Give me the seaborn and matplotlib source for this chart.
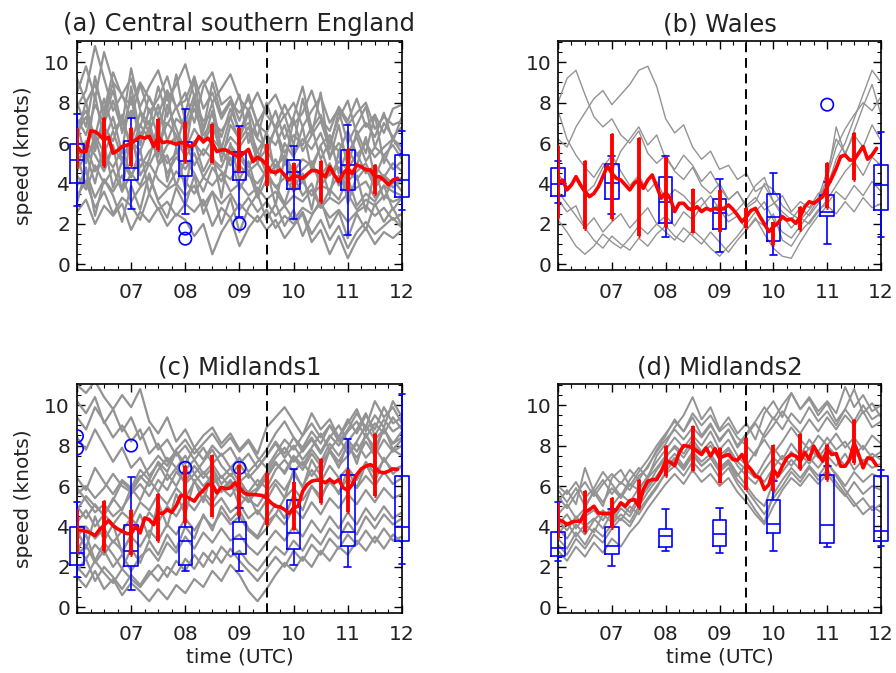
import numpy as np
import pandas as pd
import matplotlib
matplotlib.use("Agg")
import matplotlib.pyplot as plt
import seaborn as sns
from matplotlib.ticker import MultipleLocator, FixedLocator

# ---------------- data ----------------
hours = [6, 7, 8, 9, 10, 11, 12]
hour_labels = ["", "07", "08", "09", "10", "11", "12"]
bar_times = [6.0, 6.5, 7.0, 7.5, 8.0, 8.5, 9.0, 9.5, 10.0, 10.5, 11.0, 11.5]

# ensemble mean (every 5 minutes, 06:00 - 11:55)
mean_a = [5.83, 5.58, 5.58, 6.6, 6.57, 6.4, 6.15, 6.29, 5.5, 5.63, 5.83, 5.89,
          5.99, 6.15, 6.32, 6.24, 6.35, 5.83, 6.32, 6.02, 6.07, 6.02, 5.94, 6.02,
          5.99, 5.83, 5.91, 6.32, 6.07, 6.24, 5.99, 5.58, 5.66, 5.66, 5.53, 5.41,
          5.33, 5.5, 5.69, 5.08, 5.3, 5.16, 4.92, 4.59, 4.54, 4.67, 4.42, 4.17,
          4.39, 4.34, 4.26, 4.46, 4.64, 4.64, 4.5, 4.34, 4.83, 4.42, 4.09, 4.5,
          4.75, 4.5, 4.92, 4.83, 4.67, 4.67, 4.34, 4.34, 4.17, 3.93, 4.17, 4.26]
mean_b = [4.04, 4.17, 3.68, 3.93, 4.34, 3.93, 3.6, 3.35, 3.51, 3.84, 4.34, 4.87,
          4.5, 4.26, 4.17, 3.93, 3.68, 4.01, 4.17, 3.76, 4.17, 4.42, 3.84, 3.27,
          3.55, 3.27, 2.61, 3.02, 3.02, 2.77, 2.69, 2.85, 2.61, 2.77, 2.69, 2.77,
          2.69, 2.77, 2.94, 2.72, 2.44, 2.11, 2.36, 2.66, 2.77, 2.36, 2.0, 1.62,
          1.86, 2.03, 2.36, 2.19, 2.24, 2.03, 2.36, 2.85, 3.1, 3.02, 3.18, 3.35,
          3.84, 4.26, 4.75, 5.33, 5.41, 5.16, 5.16, 5.5, 5.83, 5.2, 5.41, 5.74]
mean_c = [3.81, 3.81, 3.76, 3.68, 3.55, 3.84, 4.06, 4.29, 4.04, 3.88, 3.76, 3.65,
          3.63, 4.01, 3.68, 4.42, 4.34, 4.09, 4.67, 4.64, 4.83, 4.7, 5.03, 5.53,
          5.5, 5.38, 5.25, 5.58, 5.79, 6.07, 6.07, 5.66, 5.94, 5.86, 5.91, 6.16,
          5.91, 5.66, 5.58, 5.58, 5.56, 5.53, 5.41, 5.17, 5.0, 4.97, 4.83, 4.64,
          4.92, 5.0, 5.74, 6.07, 6.24, 6.29, 6.29, 6.16, 6.32, 6.16, 6.32, 5.91,
          5.79, 6.07, 6.57, 6.85, 6.98, 7.06, 6.93, 6.7, 6.65, 6.73, 6.85, 6.82]
mean_d = [4.34, 4.26, 4.09, 4.21, 4.26, 4.26, 4.7, 4.83, 5.0, 4.67, 4.64, 4.64,
          4.64, 4.83, 5.17, 5.0, 5.28, 5.33, 5.0, 5.83, 6.24, 6.32, 6.32, 6.73,
          7.23, 7.18, 7.01, 7.64, 8.0, 7.97, 7.89, 7.72, 7.56, 7.89, 7.48, 7.85,
          7.39, 7.48, 7.56, 7.31, 7.28, 7.56, 7.06, 6.82, 6.49, 6.4, 5.83, 6.07,
          6.82, 6.49, 6.98, 7.39, 7.56, 7.48, 7.23, 7.67, 7.31, 7.97, 7.56, 7.23,
          7.81, 7.56, 7.61, 6.98, 6.98, 7.31, 8.14, 7.56, 6.9, 7.39, 7.34, 7.01]

# red error bars (half-hourly)
err_lo_a = [4.83, 4.88, 4.88, 5.66, 5.05, 5.0, 4.59, 3.88, 3.76, 3.1, 3.68, 3.47]
err_hi_a = [6.68, 7.26, 6.73, 7.19, 7.06, 6.95, 6.73, 5.96, 5.0, 5.12, 5.71, 4.92]
err_lo_b = [2.28, 1.77, 2.24, 1.4, 1.86, 1.53, 1.62, 1.78, 0.96, 1.7, 2.77, 4.17]
err_hi_b = [5.87, 5.12, 6.45, 6.24, 5.33, 3.73, 3.68, 2.77, 2.11, 2.85, 5.0, 6.49]
err_lo_c = [2.72, 2.77, 2.57, 3.3, 4.17, 4.46, 4.54, 4.09, 3.8, 5.17, 4.72, 5.53]
err_hi_c = [4.8, 5.28, 4.79, 5.61, 6.98, 7.52, 7.06, 6.62, 6.2, 7.34, 6.77, 8.55]
err_lo_d = [3.43, 3.71, 3.93, 4.92, 6.49, 6.73, 6.16, 5.79, 5.74, 6.82, 6.29, 7.15]
err_hi_d = [5.17, 5.74, 5.41, 6.32, 8.0, 8.99, 7.89, 8.38, 8.05, 8.58, 8.05, 9.29]

# observation boxes: [low whisker, q1, median, q3, high whisker] per hour
box_a = [[2.9, 4.0, 5.16, 5.94, 7.43], [2.72, 4.17, 4.79, 6.1, 7.23],
         [2.51, 4.39, 5.13, 6.07, 7.67], [2.36, 4.17, 4.55, 5.54, 6.86],
         [2.26, 3.71, 4.55, 5.18, 5.87], [1.44, 3.68, 4.9, 5.68, 6.9],
         [2.69, 3.35, 4.17, 5.4, 6.6]]
box_b = [[3.02, 3.38, 3.99, 4.75, 5.13], [2.49, 3.22, 4.03, 4.97, 5.35],
         [1.34, 2.03, 3.09, 4.31, 5.36], [0.63, 1.73, 2.52, 3.25, 4.24],
         [0.45, 1.14, 2.33, 3.47, 4.5], [1.0, 2.39, 2.59, 3.42, 4.09],
         [1.37, 2.69, 3.91, 4.93, 6.57]]
box_c = [[1.49, 2.11, 2.69, 3.96, 5.2], [0.87, 2.03, 2.81, 4.09, 6.45],
         [1.78, 2.11, 3.27, 3.96, 6.62], [1.78, 2.66, 3.38, 4.24, 4.92],
         [2.11, 2.9, 3.68, 5.3, 6.86], [1.98, 3.05, 3.71, 6.55, 8.33],
         [2.13, 3.28, 3.98, 6.49, 10.54]]
box_d = [[2.31, 2.52, 2.92, 3.71, 5.2], [2.06, 2.66, 3.05, 3.98, 4.87],
         [2.77, 2.99, 3.55, 3.88, 4.88], [2.69, 3.02, 3.65, 4.34, 4.92],
         [2.81, 3.68, 4.14, 5.3, 6.24], [2.99, 3.18, 4.09, 6.55, 7.01],
         [3.05, 3.27, 3.76, 6.49, 6.77]]

# outliers (hour, speed)
out_t_a = [8, 8, 9]
out_v_a = [1.77, 1.27, 2.0]
out_t_b = [11]
out_v_b = [7.9]
out_t_c = [6, 6, 7, 8, 9]
out_v_c = [8.47, 7.85, 8.0, 6.9, 6.9]
out_t_d = []
out_v_d = []

# ensemble members (every 10 minutes, 06:00 - 12:00)
grey_a = [
    [8.5, 9.8, 8.2, 10.5, 9.0, 8.4, 9.2, 7.8, 8.8, 9.6, 8.1, 8.9, 9.9, 8.3, 9.1, 8.0, 8.7, 9.4, 8.2, 7.6, 8.5, 7.4, 6.8, 7.9, 6.9, 7.5, 8.6, 7.2, 6.6, 7.8, 7.1, 8.2, 6.8, 7.4, 6.5, 7.7, 7.9],
    [7.8, 8.6, 10.8, 9.2, 7.6, 8.4, 7.2, 8.9, 7.5, 8.2, 9.3, 7.7, 8.5, 7.0, 8.8, 9.5, 7.9, 8.3, 7.1, 8.4, 6.9, 6.5, 7.6, 6.2, 7.3, 8.8, 6.7, 7.4, 6.0, 7.2, 8.1, 6.4, 7.0, 6.3, 7.5, 6.1, 7.3],
    [7.2, 6.4, 7.9, 7.0, 8.1, 6.6, 7.6, 6.8, 8.3, 7.3, 6.9, 7.8, 6.5, 8.0, 7.1, 7.4, 6.3, 7.7, 6.6, 7.0, 6.2, 5.8, 6.7, 5.5, 6.4, 5.9, 6.8, 5.2, 6.1, 5.6, 6.6, 5.4, 6.0, 5.3, 5.8, 6.2, 5.5],
    [6.5, 7.3, 5.9, 6.8, 6.1, 7.4, 5.6, 6.9, 6.2, 5.8, 7.0, 6.4, 5.7, 6.7, 6.0, 6.9, 5.5, 6.3, 5.8, 6.5, 5.1, 5.7, 4.8, 5.4, 4.6, 5.2, 4.9, 5.8, 4.4, 5.1, 4.7, 5.5, 4.5, 4.9, 4.3, 5.0, 4.6],
    [5.8, 5.0, 6.4, 5.5, 6.6, 5.2, 6.1, 5.6, 6.8, 5.0, 5.9, 6.3, 5.3, 6.0, 5.4, 6.2, 5.7, 4.9, 5.5, 4.8, 5.6, 4.5, 5.2, 4.3, 4.9, 4.1, 4.7, 4.4, 5.0, 3.9, 4.6, 4.2, 4.8, 3.8, 4.4, 4.0, 4.3],
    [5.0, 5.9, 4.6, 5.4, 4.8, 5.7, 4.4, 5.2, 4.9, 5.8, 4.5, 5.3, 4.7, 5.5, 4.3, 5.1, 4.6, 4.2, 4.9, 4.4, 4.0, 4.6, 3.8, 4.3, 3.6, 4.1, 3.4, 3.9, 3.7, 4.4, 3.5, 3.8, 4.1, 3.3, 3.9, 3.6, 3.4],
    [4.4, 3.7, 4.9, 4.0, 4.7, 3.6, 4.5, 3.9, 5.0, 4.2, 3.8, 4.6, 4.1, 3.5, 4.3, 3.9, 4.5, 3.6, 4.0, 3.4, 3.8, 3.2, 3.6, 2.9, 3.4, 3.1, 3.7, 2.8, 3.3, 3.0, 3.5, 2.7, 3.2, 2.9, 3.4, 3.1, 3.3],
    [3.4, 4.1, 2.8, 3.6, 2.5, 3.3, 2.9, 2.2, 3.5, 2.7, 3.1, 2.4, 3.0, 2.6, 3.2, 1.9, 2.8, 2.3, 3.0, 2.5, 2.1, 2.7, 1.8, 2.4, 2.0, 2.6, 1.5, 2.2, 1.2, 1.9, 0.8, 1.6, 2.1, 1.5, 1.9, 2.3, 1.8],
    [2.6, 3.2, 2.0, 2.9, 2.4, 3.0, 1.7, 2.6, 2.1, 2.8, 1.9, 2.5, 2.2, 1.4, 2.0, 0.5, 1.6, 2.3, 0.9, 1.8, 2.4, 1.7, 2.2, 1.3, 1.9, 2.5, 1.1, 1.7, 0.5, 1.4, 0.3, 1.2, 1.8, 1.0, 1.6, 1.3, 1.7],
    [6.9, 7.6, 6.3, 8.2, 6.7, 7.1, 6.0, 7.5, 6.5, 7.9, 6.1, 7.2, 6.8, 7.7, 6.4, 7.0, 6.6, 7.3, 6.1, 6.8, 5.6, 6.4, 5.9, 6.9, 5.4, 6.2, 5.7, 6.5, 5.3, 6.0, 5.5, 6.3, 5.1, 5.8, 5.4, 5.9, 5.2],
    [4.9, 6.1, 5.4, 4.6, 5.8, 5.1, 6.3, 4.8, 5.6, 6.0, 5.0, 5.5, 6.1, 4.9, 5.7, 5.2, 4.8, 5.9, 5.3, 4.6, 5.0, 4.3, 4.9, 5.3, 4.2, 4.7, 5.1, 3.9, 4.5, 4.8, 4.1, 4.6, 5.0, 4.0, 4.4, 3.8, 4.2],
    [3.9, 4.6, 3.3, 4.2, 3.6, 4.4, 3.1, 3.8, 4.3, 3.2, 3.7, 4.0, 3.4, 3.9, 2.9, 3.6, 3.0, 3.5, 2.7, 3.3, 2.6, 3.1, 2.4, 2.9, 2.2, 2.8, 2.5, 3.0, 2.3, 2.7, 2.1, 2.6, 2.9, 2.4, 2.8, 2.2, 2.5],
    [9.2, 8.0, 8.9, 7.6, 9.5, 8.3, 7.9, 9.0, 8.2, 7.4, 8.6, 7.8, 8.1, 9.3, 7.7, 8.5, 7.2, 8.0, 7.5, 8.2, 7.0, 7.8, 8.4, 7.3, 8.0, 6.8, 7.6, 8.3, 7.0, 7.7, 6.9, 7.5, 8.0, 6.7, 7.3, 6.9, 7.1],
    [6.2, 8.1, 5.6, 7.4, 9.0, 6.5, 8.3, 5.9, 7.7, 6.3, 8.6, 5.8, 7.5, 9.1, 6.6, 8.0, 5.7, 7.3, 8.4, 6.0, 7.1, 5.4, 6.8, 4.9, 7.2, 5.6, 6.4, 8.5, 5.2, 6.9, 4.8, 6.6, 5.5, 7.4, 5.0, 6.2, 5.8],
    [5.4, 3.9, 6.3, 4.7, 5.9, 3.6, 6.5, 4.4, 5.2, 7.0, 4.1, 5.8, 3.7, 6.1, 4.6, 5.5, 3.3, 6.0, 4.2, 5.1, 3.5, 4.8, 2.9, 5.3, 3.8, 4.5, 2.7, 4.9, 3.4, 5.6, 3.0, 4.4, 2.6, 4.7, 3.2, 4.2, 3.6],
    [7.0, 5.2, 8.4, 6.1, 7.3, 5.5, 8.8, 6.4, 7.1, 5.3, 7.9, 6.7, 5.6, 8.2, 6.0, 7.6, 5.1, 6.9, 6.2, 7.5, 5.0, 6.6, 4.4, 6.0, 5.3, 6.8, 4.6, 5.9, 6.4, 4.5, 5.7, 4.9, 6.3, 4.3, 5.4, 4.7, 5.1],
    [3.0, 4.8, 2.4, 4.2, 3.4, 2.1, 3.9, 2.7, 4.5, 3.1, 2.3, 3.8, 2.9, 4.4, 2.5, 3.6, 2.0, 3.3, 1.6, 2.8, 3.5, 2.2, 3.0, 1.9, 2.7, 1.4, 2.4, 3.2, 1.8, 2.6, 1.3, 2.5, 1.7, 3.0, 2.1, 2.8, 1.9],
    [8.0, 6.8, 9.3, 7.2, 8.6, 6.9, 9.7, 7.6, 6.9, 8.8, 7.3, 9.4, 7.0, 8.4, 6.7, 9.0, 7.4, 8.1, 6.5, 7.7, 6.3, 8.0, 6.6, 7.4, 5.9, 8.2, 6.4, 7.1, 5.7, 7.6, 6.0, 6.9, 7.8, 5.8, 7.0, 6.3, 6.8],
    [4.6, 5.5, 4.0, 6.0, 3.8, 5.1, 4.3, 5.7, 3.5, 4.9, 5.4, 3.9, 5.2, 4.5, 3.6, 4.8, 4.1, 5.3, 3.7, 4.6, 3.3, 4.2, 3.9, 3.0, 4.4, 3.4, 4.0, 2.8, 3.7, 3.2, 4.3, 2.9, 3.5, 3.1, 3.9, 2.7, 3.3],
]
grey_b = [
    [8.0, 9.2, 9.6, 8.4, 7.3, 6.8, 7.2, 6.4, 6.0, 6.6, 5.5, 5.0, 5.4, 4.6, 4.2, 4.8, 3.9, 3.5, 4.0, 3.2, 3.6, 2.9, 3.3, 2.7, 3.0, 3.4, 2.6, 3.1, 2.8, 3.5, 3.8, 5.2, 6.0, 7.2, 8.4, 9.6, 9.0],
    [6.2, 5.8, 6.8, 7.5, 8.2, 8.6, 7.9, 8.4, 8.9, 9.6, 9.8, 8.8, 7.2, 6.5, 6.9, 5.8, 5.2, 5.6, 4.7, 4.9, 4.2, 4.5, 3.6, 3.9, 3.1, 2.6, 2.2, 2.8, 2.4, 3.0, 4.3, 5.8, 6.7, 7.4, 8.0, 7.6, 8.3],
    [7.6, 6.2, 5.4, 4.8, 4.3, 5.0, 4.6, 5.6, 6.2, 6.8, 5.9, 6.4, 5.2, 4.7, 5.4, 4.9, 4.1, 4.6, 3.8, 3.2, 3.6, 2.8, 3.1, 4.0, 3.7, 2.9, 2.5, 2.2, 2.7, 3.3, 4.6, 6.2, 5.5, 6.4, 5.8, 6.9, 6.1],
    [4.5, 3.8, 4.2, 3.5, 3.9, 4.8, 5.4, 4.6, 3.9, 4.4, 3.6, 4.1, 3.2, 3.7, 3.4, 2.9, 3.3, 2.6, 3.0, 2.4, 2.7, 3.2, 3.9, 4.3, 3.1, 2.4, 1.8, 2.3, 2.0, 2.6, 3.2, 3.9, 4.6, 5.1, 4.4, 5.3, 4.9],
    [3.2, 2.6, 2.9, 1.8, 2.3, 1.6, 2.1, 2.5, 1.8, 2.3, 2.8, 2.0, 2.4, 1.9, 2.6, 2.2, 2.9, 3.4, 2.7, 2.1, 2.4, 1.7, 2.2, 1.9, 2.5, 1.2, 0.9, 1.6, 2.1, 2.7, 3.0, 3.6, 3.2, 3.9, 3.4, 4.1, 3.6],
    [2.2, 1.6, 0.9, 0.5, 0.9, 1.5, 1.1, 0.8, 1.3, 1.9, 1.5, 2.0, 1.6, 1.2, 1.8, 1.4, 1.0, 1.6, 1.1, 0.6, 1.2, 1.7, 2.3, 1.5, 0.8, 0.4, 0.3, 1.1, 1.8, 2.4, 2.9, 2.5, 3.1, 2.6, 3.3, 2.8, 3.0],
    [3.6, 3.0, 2.4, 1.8, 1.2, 0.8, 1.4, 1.0, 0.7, 1.3, 0.9, 1.5, 1.9, 1.4, 1.1, 1.7, 1.3, 0.8, 0.4, 0.9, 1.4, 2.0, 2.6, 3.1, 2.2, 1.6, 1.3, 1.9, 2.5, 3.2, 4.2, 6.8, 5.4, 6.6, 7.8, 8.9, 7.4],
]
grey_c = [
    [11.0, 10.6, 11.2, 10.4, 9.8, 10.5, 9.9, 10.8, 9.2, 8.6, 9.4, 8.2, 8.8, 7.9, 8.5, 8.9, 8.1, 8.6, 7.8, 8.3, 7.6, 8.9, 9.4, 9.9, 9.2, 8.5, 9.6, 8.8, 9.3, 8.4, 9.1, 9.8, 8.7, 9.5, 8.9, 10.2, 9.4],
    [10.2, 9.6, 10.4, 9.1, 9.8, 8.7, 9.4, 8.3, 8.9, 7.8, 8.3, 7.5, 8.0, 7.3, 7.9, 7.1, 7.6, 6.9, 7.4, 6.7, 7.2, 7.8, 8.6, 9.2, 8.4, 7.7, 8.3, 7.6, 8.4, 9.0, 8.2, 8.8, 9.6, 8.5, 9.3, 8.7, 9.0],
    [5.6, 6.0, 5.4, 5.9, 6.6, 6.0, 5.7, 6.4, 6.9, 7.5, 7.0, 7.8, 8.3, 7.6, 8.1, 8.6, 7.9, 8.4, 7.7, 8.2, 7.4, 6.9, 7.6, 8.3, 7.8, 8.5, 9.1, 8.4, 9.0, 8.2, 8.8, 9.6, 8.9, 10.2, 9.4, 9.9, 9.1],
    [4.8, 5.5, 5.0, 4.6, 5.3, 6.2, 5.8, 6.5, 6.0, 6.8, 7.4, 6.9, 7.5, 6.6, 7.2, 7.8, 7.0, 6.5, 7.1, 6.4, 6.9, 7.5, 8.1, 7.4, 8.0, 7.3, 7.9, 8.6, 7.8, 8.4, 7.6, 8.2, 9.0, 8.3, 8.8, 8.1, 8.7],
    [5.9, 5.3, 4.7, 5.1, 4.5, 4.9, 5.6, 6.1, 5.5, 6.3, 5.8, 6.7, 6.2, 7.0, 6.4, 6.9, 6.1, 6.6, 6.0, 5.7, 6.3, 5.9, 6.8, 7.3, 6.7, 7.2, 6.5, 7.1, 7.7, 7.0, 7.5, 8.1, 7.4, 7.9, 7.2, 7.8, 7.5],
    [4.2, 4.8, 4.0, 4.6, 4.1, 4.7, 4.3, 5.2, 4.8, 5.6, 5.1, 5.9, 5.4, 6.2, 5.7, 5.2, 5.9, 5.5, 6.1, 5.3, 5.0, 5.7, 6.3, 5.8, 6.6, 6.0, 6.8, 6.2, 7.0, 6.4, 6.9, 6.3, 7.2, 6.6, 7.3, 6.8, 7.0],
    [3.5, 4.0, 3.4, 3.9, 3.2, 3.8, 4.4, 3.9, 4.7, 4.2, 5.0, 4.5, 5.3, 4.8, 5.5, 4.9, 5.4, 4.7, 5.1, 4.4, 4.8, 4.2, 4.6, 5.4, 5.9, 5.3, 6.0, 5.5, 6.2, 5.7, 6.4, 5.9, 6.5, 6.0, 6.7, 6.1, 6.4],
    [3.0, 2.4, 3.1, 2.6, 3.3, 2.8, 3.5, 3.0, 3.8, 3.3, 4.1, 3.6, 4.4, 3.8, 4.5, 4.0, 4.7, 4.1, 4.5, 3.8, 3.4, 3.9, 4.6, 4.1, 4.9, 4.4, 5.2, 4.6, 5.4, 4.9, 5.6, 5.1, 5.8, 5.2, 5.9, 5.4, 5.6],
    [2.5, 3.1, 2.2, 2.8, 2.0, 2.6, 1.8, 2.5, 2.9, 2.3, 3.2, 2.7, 3.5, 2.9, 3.7, 3.2, 3.9, 3.3, 3.6, 3.0, 2.6, 3.2, 3.8, 3.3, 4.0, 3.5, 4.3, 3.7, 4.5, 3.9, 4.7, 4.1, 4.9, 4.3, 5.0, 4.4, 4.7],
    [2.0, 1.5, 2.3, 1.7, 1.2, 1.9, 1.4, 1.0, 1.6, 2.1, 1.5, 2.3, 1.8, 2.6, 2.0, 2.8, 2.2, 2.9, 2.3, 1.8, 1.3, 1.9, 2.5, 2.0, 2.8, 2.3, 3.1, 2.6, 3.4, 2.9, 3.6, 3.1, 3.8, 3.2, 3.9, 3.3, 3.5],
    [1.5, 1.0, 1.8, 0.9, 1.4, 0.6, 1.2, 0.8, 0.3, 0.9, 0.4, 1.1, 0.7, 1.4, 1.0, 1.8, 1.3, 2.1, 1.6, 0.8, 0.3, 0.9, 1.6, 2.2, 1.8, 2.5, 2.0, 2.8, 2.3, 3.0, 2.6, 3.3, 2.8, 3.5, 2.9, 3.6, 3.2],
    [5.0, 4.4, 5.1, 4.5, 5.4, 4.8, 5.9, 5.3, 6.3, 5.7, 6.6, 6.0, 6.9, 6.2, 6.7, 6.1, 6.5, 5.9, 6.3, 5.6, 5.9, 6.5, 7.2, 6.6, 7.4, 6.8, 7.6, 7.0, 7.8, 7.2, 8.0, 7.4, 8.2, 7.5, 8.3, 7.7, 8.0],
    [8.4, 7.8, 8.8, 8.0, 7.2, 7.9, 6.9, 7.4, 6.5, 7.1, 6.3, 6.9, 6.1, 6.6, 6.0, 6.5, 5.8, 6.3, 5.6, 5.2, 5.8, 6.4, 7.1, 6.7, 7.5, 7.0, 7.8, 7.2, 8.1, 7.5, 8.3, 7.7, 8.5, 7.9, 8.8, 8.1, 8.4],
    [3.8, 2.9, 4.5, 3.3, 4.1, 2.7, 3.6, 4.6, 3.4, 5.2, 4.0, 5.6, 4.6, 6.3, 5.2, 6.8, 5.7, 6.2, 5.0, 5.6, 4.6, 5.3, 6.1, 5.4, 6.8, 5.9, 7.3, 6.5, 7.8, 6.9, 8.2, 7.1, 8.6, 7.6, 8.9, 7.8, 8.3],
    [2.8, 3.6, 2.3, 3.2, 2.6, 1.9, 2.9, 2.2, 3.3, 2.6, 3.6, 2.9, 4.0, 3.4, 4.6, 3.8, 5.0, 4.3, 4.8, 3.9, 3.5, 4.4, 5.1, 4.4, 5.6, 4.8, 6.0, 5.3, 6.4, 5.6, 6.8, 5.9, 7.1, 6.2, 7.4, 6.6, 7.0],
    [6.4, 5.8, 6.9, 6.2, 5.6, 6.3, 5.9, 6.8, 6.3, 7.2, 6.7, 7.7, 7.1, 7.9, 7.3, 8.0, 7.5, 7.9, 7.1, 7.6, 6.9, 7.5, 8.2, 7.6, 8.4, 7.9, 8.7, 8.1, 9.0, 8.4, 9.3, 8.6, 9.5, 8.8, 9.9, 9.1, 9.4],
    [1.8, 2.4, 1.3, 2.0, 1.5, 0.9, 1.6, 1.1, 1.8, 1.3, 2.0, 1.6, 2.4, 1.9, 2.7, 2.2, 3.0, 2.5, 2.8, 2.2, 1.8, 2.4, 3.0, 2.6, 3.3, 2.8, 3.6, 3.1, 3.9, 3.4, 4.2, 3.6, 4.5, 3.9, 4.6, 4.1, 4.4],
    [9.4, 8.8, 9.9, 9.2, 8.4, 9.0, 8.2, 8.8, 7.6, 8.1, 7.2, 7.7, 6.8, 7.3, 6.6, 7.1, 6.4, 6.9, 6.2, 6.6, 6.0, 6.7, 7.4, 7.9, 7.2, 7.8, 8.4, 7.7, 8.5, 8.0, 8.7, 9.2, 8.4, 9.1, 8.6, 9.4, 8.8],
]
grey_d = [
    [6.0, 5.6, 6.2, 5.4, 5.9, 6.7, 6.1, 5.5, 6.3, 6.9, 6.4, 7.5, 8.1, 8.9, 9.5, 10.4, 9.3, 9.9, 8.8, 9.4, 8.6, 9.1, 8.3, 9.6, 10.2, 9.4, 10.6, 9.8, 10.3, 9.5, 10.1, 9.2, 9.8, 10.8, 9.6, 10.1, 9.4],
    [5.2, 5.8, 5.1, 6.9, 5.7, 5.0, 6.4, 6.8, 6.0, 6.7, 7.3, 8.0, 8.6, 9.2, 8.7, 9.4, 8.5, 9.1, 8.2, 8.8, 7.9, 8.5, 9.1, 8.4, 9.0, 9.7, 9.1, 8.6, 9.3, 8.7, 9.4, 8.8, 9.5, 9.0, 9.7, 8.9, 9.2],
    [4.6, 5.1, 4.4, 4.9, 5.8, 5.2, 5.9, 5.4, 6.1, 5.8, 6.5, 7.2, 7.8, 8.4, 7.9, 8.5, 8.0, 8.7, 7.8, 8.3, 7.5, 7.0, 7.7, 8.3, 7.6, 8.2, 8.9, 8.3, 7.8, 8.5, 8.0, 8.6, 7.9, 8.4, 7.8, 8.5, 8.1],
    [4.1, 4.6, 3.9, 4.5, 4.8, 4.3, 5.0, 5.6, 5.2, 5.9, 6.4, 6.9, 7.5, 7.9, 7.4, 8.1, 7.6, 8.0, 7.3, 7.8, 7.0, 6.5, 6.1, 6.8, 7.4, 7.0, 7.7, 7.2, 7.9, 7.4, 8.0, 7.5, 7.0, 7.7, 7.2, 7.6, 7.3],
    [3.6, 4.2, 3.5, 4.1, 3.7, 4.6, 4.2, 4.9, 4.5, 5.3, 5.9, 6.5, 7.1, 7.6, 7.0, 7.7, 7.2, 7.6, 6.9, 7.3, 6.6, 6.0, 5.4, 5.0, 6.2, 6.7, 7.3, 6.8, 7.4, 6.9, 7.5, 7.0, 7.6, 6.8, 7.3, 6.9, 7.1],
    [3.1, 2.6, 3.4, 2.9, 3.6, 3.2, 3.9, 4.4, 4.0, 4.8, 5.4, 6.0, 6.6, 7.0, 6.5, 7.2, 6.7, 7.1, 6.4, 6.9, 6.1, 5.5, 4.8, 4.2, 5.6, 6.3, 6.9, 6.4, 7.0, 6.5, 7.1, 6.6, 6.0, 6.7, 6.2, 6.6, 6.4],
    [2.8, 2.3, 3.0, 2.5, 3.2, 2.7, 3.4, 3.0, 3.7, 4.2, 4.9, 5.5, 6.1, 6.6, 6.1, 6.8, 6.2, 6.6, 6.0, 6.4, 5.7, 5.2, 4.6, 4.1, 5.0, 5.8, 6.4, 6.0, 6.6, 6.1, 6.6, 6.0, 5.5, 6.2, 5.6, 6.0, 5.8],
    [5.5, 4.9, 5.6, 6.2, 5.5, 6.1, 6.6, 6.1, 6.8, 6.3, 7.0, 7.7, 8.3, 8.8, 8.3, 8.9, 8.4, 9.0, 8.3, 8.8, 8.0, 8.6, 9.2, 9.9, 9.3, 10.0, 10.6, 9.8, 10.4, 9.7, 10.2, 9.6, 10.9, 9.9, 10.5, 9.7, 10.0],
    [4.3, 3.8, 4.5, 4.0, 4.4, 3.9, 4.7, 4.3, 5.0, 4.6, 5.3, 5.9, 6.7, 7.3, 6.8, 7.5, 7.0, 7.4, 6.8, 7.2, 6.5, 7.1, 6.6, 6.2, 6.9, 7.5, 7.0, 7.6, 7.1, 7.7, 7.2, 6.5, 5.8, 5.2, 4.6, 5.0, 4.7],
    [5.8, 5.2, 5.9, 5.0, 5.7, 6.3, 5.6, 6.2, 5.8, 6.5, 6.9, 7.8, 8.5, 9.3, 8.7, 9.6, 9.0, 9.5, 8.7, 9.1, 8.4, 8.0, 7.5, 8.6, 9.4, 8.8, 9.6, 9.1, 9.9, 9.2, 9.7, 9.0, 9.8, 9.2, 10.0, 9.3, 9.6],
    [3.9, 3.4, 4.1, 3.6, 4.3, 4.8, 4.4, 5.1, 4.7, 5.5, 6.0, 6.8, 7.4, 8.0, 7.6, 8.3, 7.7, 8.2, 7.5, 7.9, 7.2, 6.8, 6.4, 7.2, 7.9, 7.3, 8.1, 7.5, 8.3, 7.7, 8.4, 7.8, 8.2, 7.5, 8.0, 7.4, 7.7],
    [3.4, 2.9, 3.7, 3.1, 3.9, 3.5, 4.1, 4.6, 4.2, 5.0, 5.7, 6.3, 6.9, 7.4, 6.9, 7.6, 7.0, 7.4, 6.7, 7.1, 6.3, 5.8, 5.2, 4.6, 5.4, 6.0, 6.7, 6.2, 6.9, 6.3, 6.8, 6.2, 5.6, 5.0, 5.4, 4.8, 5.1],
]

titles = ["(a) Central southern England", "(b) Wales", "(c) Midlands1", "(d) Midlands2"]

# ---------------- style ----------------
sns.set_style("ticks")
plt.rcParams["font.family"] = ["DejaVu Sans"]
TXT = "#222222"
GREY = "#939393"

fig = plt.figure(figsize=(8.96, 6.73), dpi=100)
positions = [[0.0859, 0.5988, 0.3627, 0.3403], [0.6228, 0.5988, 0.3605, 0.3403],
             [0.0859, 0.0892, 0.3627, 0.3403], [0.6228, 0.0892, 0.3605, 0.3403]]
grey_widths = [1.6, 1.0, 1.6, 1.4]

panels = [
    (grey_a, mean_a, err_lo_a, err_hi_a, box_a, out_t_a, out_v_a),
    (grey_b, mean_b, err_lo_b, err_hi_b, box_b, out_t_b, out_v_b),
    (grey_c, mean_c, err_lo_c, err_hi_c, box_c, out_t_c, out_v_c),
    (grey_d, mean_d, err_lo_d, err_hi_d, box_d, out_t_d, out_v_d),
]

for k, (grey, mean, elo, ehi, box, ot, ov) in enumerate(panels):
    ax = fig.add_axes(positions[k])

    # ensemble members
    rows = []
    for m, vals in enumerate(grey):
        tt = np.linspace(6, 12, len(vals))
        for t, v in zip(tt, vals):
            rows.append((m, t, v))
    gdf = pd.DataFrame(rows, columns=["member", "time", "speed"])
    sns.lineplot(data=gdf, x="time", y="speed", units="member", estimator=None,
                 color=GREY, lw=grey_widths[k], ax=ax, legend=False, zorder=1)

    # observation boxes
    brow = []
    for h, stats in zip(hours, box):
        for v in stats:
            brow.append((h, v))
    bdf = pd.DataFrame(brow, columns=["hour", "speed"])
    nl, npch = len(ax.lines), len(ax.patches)
    sns.boxplot(data=bdf, x="hour", y="speed", native_scale=True, width=0.25,
                whis=np.inf, fill=False, color="#0000ff", linewidth=1.2,
                ax=ax, zorder=3)
    for art in ax.lines[nl:] + ax.patches[npch:]:
        art.set_clip_on(False)
        art.set_zorder(3)
        try:
            art.set_color("#0000ff")
        except Exception:
            pass

    if len(ot):
        sns.scatterplot(x=ot, y=ov, marker="o", s=80, facecolor="none",
                        edgecolor="#0000ff", linewidth=1.2, ax=ax, zorder=4)

    # dashed line
    ax.axvline(9.5, color="black", ls=(0, (5, 3)), lw=1.4, zorder=5)

    # ensemble mean + spread bars
    mt = 6 + np.arange(len(mean)) * 5 / 60
    sns.lineplot(x=mt, y=mean, color="#ff0000", lw=2.6, ax=ax, zorder=6)
    ax.vlines(bar_times[:len(elo)], elo, ehi, color="#ff0000", lw=2.8, zorder=6)
    ax.hlines(elo, np.array(bar_times) - 0.015, np.array(bar_times) + 0.015,
              color="#ff0000", lw=2.0, zorder=6)
    ax.hlines(ehi, np.array(bar_times) - 0.015, np.array(bar_times) + 0.015,
              color="#ff0000", lw=2.0, zorder=6)

    ax.set_xlim(6, 12)
    ax.set_ylim(-0.28, 11.05)
    ax.xaxis.set_major_locator(FixedLocator(hours))
    ax.set_xticklabels(hour_labels)
    ax.xaxis.set_minor_locator(MultipleLocator(0.25))
    ax.yaxis.set_major_locator(MultipleLocator(2))
    ax.yaxis.set_minor_locator(MultipleLocator(0.5))
    ax.set_yticks([0, 2, 4, 6, 8, 10])
    ax.tick_params(which="both", direction="in", top=True, right=True,
                   labelsize=14.5, labelcolor=TXT, color="black")
    ax.tick_params(which="major", length=6, width=1.0)
    ax.tick_params(which="minor", length=3, width=0.8)
    ax.tick_params(axis="x", pad=9)
    ax.tick_params(axis="y", pad=5)
    for sp in ax.spines.values():
        sp.set_visible(True)
        sp.set_linewidth(1.2)
        sp.set_color("black")

    ax.set_title(titles[k], fontsize=17.5, color=TXT, pad=7)
    ax.set_ylabel("speed (knots)" if k in (0, 2) else "", fontsize=14.5, color=TXT, labelpad=8)
    ax.set_xlabel("time (UTC)" if k in (2, 3) else "", fontsize=14.5, color=TXT, labelpad=2)

fig.savefig("out.png", dpi=100)
